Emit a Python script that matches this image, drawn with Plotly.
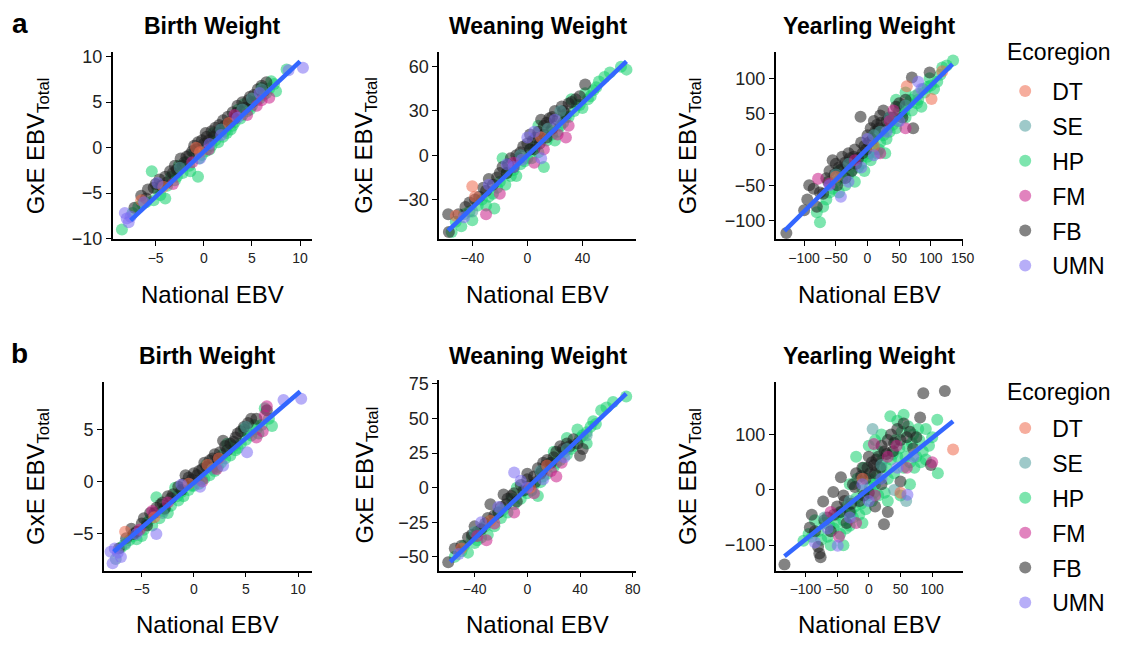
import plotly.graph_objects as go

# ---------------- data ----------------
REGIONS = ["DT", "SE", "HP", "FM", "FB", "UMN"]
TRAITS = ["Birth Weight", "Weaning Weight", "Yearling Weight"]
ROWS = ["a", "b"]

# Row a - Birth Weight
A_BW_FB = [(-6.5,-5.3),(-5.8,-4.6),(-5.2,-4.4),(-4.6,-3.5),(-4.0,-3.2),(-3.5,-2.6),(-3.0,-2.0),(-2.4,-1.2),(-2.0,-1.6),(-1.5,-0.8),(-1.0,0.2),(-0.6,0.6),(-0.2,0.8),(0.3,1.2),(0.8,1.8),(1.2,2.2),(1.6,2.5),(2.0,3.0),(2.5,3.4),(3.0,3.9),(3.5,4.6),(4.0,5.0),(4.6,5.2),(5.2,5.8),(6.0,6.8),(6.5,7.2),(-3.8,-3.8),(0.0,0.4),(2.2,2.4),(-7.2,-6.6),(-2.8,-2.4),(1.0,1.2),(3.2,3.2),(5.6,6.4),(-4.4,-4.2),
           (-5.0,-4.0),(-3.2,-2.8),(-1.8,-1.0),(-0.8,-0.2),(0.5,0.8),(1.4,1.6),(2.7,2.8),(3.8,4.0),(4.3,4.4),(5.0,5.0),(6.2,6.2),(-6.0,-5.6),(-1.2,-0.4),(0.2,1.6),(1.8,2.0),(3.4,3.8),(-2.2,-2.0),(4.8,5.6)]
A_BW_HP = [(-8.5,-9.0),(-6.8,-6.5),(-6.0,-6.0),(-5.2,-5.8),(-4.5,-5.2),(-3.8,-4.2),(-3.0,-3.6),(-2.2,-2.8),(-1.5,-2.0),(-0.6,-3.2),(-0.5,-1.2),(0.2,-0.4),(0.8,0.2),(1.5,0.6),(2.0,1.2),(2.8,2.0),(3.2,2.8),(3.8,3.2),(4.5,4.0),(5.0,4.6),(5.5,5.2),(6.2,5.8),(6.8,6.5),(7.5,6.2),(7.0,7.3),(1.0,1.6),(-2.6,-2.0),(4.2,4.8),(-5.4,-2.6),(2.4,1.6),(3.6,4.2),(-1.0,-0.6),(8.6,8.6),(-4.0,-5.6),(6.0,6.6),
           (-7.4,-7.2),(-6.4,-6.2),(-4.8,-4.6),(-3.4,-3.2),(-2.8,-3.2),(-1.8,-1.6),(-0.2,-0.8),(0.6,-0.2),(1.2,0.8),(2.2,1.8),(3.0,2.4),(4.0,3.6),(4.8,4.2),(5.8,5.4),(6.5,6.0),(7.3,7.0),(-1.4,-2.6),(2.6,2.6)]
A_BW_FM = [(4.5,3.6),(5.5,4.6),(6.0,5.2),(6.8,5.5),(3.2,3.6),(-1.2,-1.6),(0.5,-0.2),(-3.2,-4.0)]
A_BW_SE = [(5.0,5.4),(4.0,4.2),(-2.5,-2.2),(1.8,2.0),(6.0,6.4)]
A_BW_DT = [(-6.5,-5.8),(-0.8,0.0),(-0.4,-0.5),(2.6,2.7),(-4.2,-4.3)]
A_BW_UMN = [(-8.2,-7.2),(-8.0,-7.8),(-7.6,-7.6),(-7.8,-8.2),(-4.8,-3.9),(-0.4,-1.2),(1.8,1.4),(3.5,3.3),(5.8,6.0),(8.8,8.5),(10.3,8.8),(-6.2,-6.0),(0.6,0.4)]

# Row a - Weaning Weight
A_WW_FB = [(-57.5,-40),(-57,-52),(-45,-35),(-38,-30),(-32,-22),(-28,-16),(-22,-15),(-18,-8),(-12,-2),(-8,0),(-5,2),(0,8),(4,10),(8,16),(12,20),(16,25),(20,30),(25,33),(30,35),(35,38),(42,48),(-25,-20),(5,4),(10,24),(18,18),(-15,-12),(28,28),(2,14),(14,12),(-35,-28),
           (-50,-40),(-42,-32),(-30,-24),(-20,-12),(-14,-6),(-10,-8),(-3,6),(2,4),(6,12),(9,8),(14,22),(18,26),(22,24),(26,30),(32,36),(38,40),(-6,-2),(12,14)]
A_WW_HP = [(-52,-45),(-48,-48),(-42,-38),(-36,-34),(-30,-34),(-25,-26),(-20,-18),(-15,-12),(-10,-10),(-5,-6),(0,-2),(3,-2),(6,6),(12,-8),(14,10),(18,14),(22,16),(26,22),(30,26),(34,30),(38,34),(44,38),(48,44),(52,50),(56,53),(68,60),(72,58),(-24,-36),(-18,-2),(8,20),(20,10),(40,32),(-8,-14),(32,38),(-40,-44),
           (-55,-52),(-46,-40),(-33,-30),(-28,-28),(-22,-22),(-12,-14),(-2,-4),(2,4),(8,2),(16,16),(24,20),(28,26),(36,34),(42,42),(46,40),(50,46),(60,56),(-16,-20)]
A_WW_FM = [(-30,-40),(-20,-26),(5,-5),(12,4),(22,14),(28,12),(30,20),(-10,-5)]
A_WW_SE = [(-40,-38),(24,30),(-5,0),(15,18)]
A_WW_DT = [(-40,-21),(-52,-41),(-38,-28),(10,12)]
A_WW_UMN = [(-46,-42),(-28,-20),(-10,-8),(0,12),(5,16),(10,-2),(20,24),(-15,-6),(-4,-3)]

# Row a - Yearling Weight
A_YW_FB = [(-128,-117),(-100,-85),(-92,-50),(-85,-55),(-80,-80),(-70,-62),(-60,-30),(-55,-15),(-50,-20),(-45,-25),(-40,-10),(-35,-18),(-30,-5),(-25,-30),(-20,0),(-15,-12),(-10,10),(-5,5),(0,20),(5,30),(10,40),(15,35),(20,48),(25,55),(-11,46),(30,40),(40,45),(55,45),(70,101),(98,108),(72,30),(50,65),(-62,-45),(-35,-40),
           (-95,-70),(-75,-60),(-65,-40),(-52,-35),(-42,-28),(-32,-22),(-22,-10),(-18,-20),(-8,-5),(-2,0),(2,10),(8,15),(12,25),(18,30),(22,38),(35,45),(45,60),(60,70),(-48,-50),(-28,-12)]
A_YW_HP = [(-75,-102),(-80,-88),(-65,-70),(-55,-55),(-45,-60),(-40,-40),(-30,-35),(-20,-45),(-15,-25),(-10,-20),(-5,-30),(0,-10),(5,-15),(10,0),(15,-5),(20,10),(25,20),(30,15),(35,25),(40,35),(45,30),(50,55),(55,50),(60,45),(65,65),(70,55),(75,75),(80,70),(85,60),(90,80),(95,88),(100,90),(110,95),(118,115),(125,118),(135,125),(60,80),(45,70),(15,25),(28,-5),
           (-70,-80),(-60,-60),(-50,-45),(-35,-50),(-25,-30),(-8,-10),(2,-5),(8,10),(18,0),(22,25),(32,30),(38,45),(48,40),(52,60),(58,55),(68,70),(78,65),(88,85),(98,100),(105,85),(115,105),(-45,-30)]
A_YW_FM = [(-78,-41),(-60,-48),(41,55),(20,-5),(35,40),(60,30),(-20,-15)]
A_YW_SE = [(-50,-35),(-30,-20),(10,20),(35,45),(60,62),(80,78),(20,25)]
A_YW_DT = [(-50,-38),(62,89),(101,71),(118,110),(10,5)]
A_YW_UMN = [(-42,-66),(-30,-45),(-10,-25),(10,-8),(30,25),(50,40),(80,95),(85,85),(-60,-50),(0,15)]

# Row b - Birth Weight
B_BW_FB = [(-6.0,-4.5),(-5.5,-4.8),(-4.8,-3.5),(-4.2,-3.0),(-3.6,-2.5),(-3.0,-2.0),(-2.5,-1.4),(-2.0,-1.2),(-1.5,-0.5),(-1.0,-0.2),(-0.5,0.4),(0.0,0.8),(0.5,1.0),(1.0,1.8),(1.5,2.0),(2.0,2.6),(2.5,2.8),(3.0,3.4),(3.5,3.6),(4.0,4.2),(4.5,4.8),(5.2,5.6),(5.5,6.0),(7.0,6.8),(-7.2,-6.4),(0.8,1.2),(-2.8,-2.6),(2.8,3.9),(-4.5,-4.2),
           (-5.8,-5.0),(-5.0,-4.0),(-3.8,-3.0),(-3.2,-2.2),(-2.2,-1.6),(-1.2,-0.8),(-0.2,0.2),(0.3,0.6),(1.2,1.4),(1.8,2.2),(2.3,2.2),(3.2,3.0),(3.8,3.8),(4.2,4.6),(4.8,5.2),(6.0,6.0),(-6.5,-5.4),(-0.8,0.6)]
B_BW_HP = [(-7.0,-6.3),(-6.2,-5.6),(-5.5,-5.5),(-5.0,-5.2),(-4.5,-3.9),(-4.0,-4.2),(-3.3,-3.5),(-2.8,-2.5),(-2.2,-2.3),(-1.5,-1.8),(-1.0,-1.4),(-0.5,-0.8),(0.0,-0.4),(0.5,-0.2),(1.0,0.3),(1.5,0.6),(2.0,1.0),(2.6,1.8),(3.0,2.2),(3.5,2.5),(4.0,3.0),(4.5,3.6),(5.0,4.0),(5.5,4.4),(6.0,5.0),(6.5,5.4),(7.2,6.0),(7.5,5.3),(6.8,7.0),(-3.6,-1.5),(1.2,1.6),(4.8,5.0),(-1.8,-0.6),(3.2,3.6),
           (-6.6,-6.0),(-5.8,-5.2),(-4.8,-4.6),(-4.2,-3.6),(-3.0,-2.8),(-2.5,-3.0),(-1.2,-1.0),(-0.2,-0.4),(0.8,0.2),(1.8,1.4),(2.3,1.4),(2.8,2.6),(3.8,3.4),(4.2,3.2),(5.2,4.6),(5.8,5.4),(6.2,4.6),(-1.6,-1.4)]
B_BW_FM = [(-5.2,-4.6),(-4.0,-2.8),(0.8,0.0),(2.2,1.2),(6.0,4.2),(6.6,4.8),(7.0,7.2),(6.8,6.3),(-2.5,-2.0)]
B_BW_SE = [(-7.5,-7.4),(-3.0,-3.0),(1.8,1.2),(5.0,5.2),(-6.6,-5.9)]
B_BW_DT = [(-0.5,-0.2),(1.3,1.6),(2.4,2.2),(-3.8,-3.4),(-6.6,-4.8)]
B_BW_UMN = [(-7.8,-7.8),(-7.6,-6.4),(-7.3,-6.8),(-8.0,-6.7),(-7.0,-7.2),(-3.6,-5.0),(-1.2,-0.3),(0.6,-0.5),(2.8,1.5),(5.1,2.8),(8.6,7.8),(10.3,7.9),(-5.5,-5.0)]

# Row b - Weaning Weight
B_WW_FB = [(-60,-54),(-55,-44),(-45,-36),(-40,-28),(-35,-30),(-30,-22),(-25,-20),(-20,-14),(-15,-8),(-10,-4),(-8,-10),(-5,2),(0,6),(5,8),(8,14),(12,18),(15,20),(20,22),(25,30),(30,32),(35,35),(40,23),(42,28),(-18,-5),(10,10),(-28,-12),
           (-50,-42),(-42,-34),(-38,-32),(-32,-26),(-22,-18),(-12,-6),(-3,-2),(2,2),(6,4),(11,12),(14,16),(18,18),(22,26),(27,28),(32,30),(38,32),(-16,-12),(0,10)]
B_WW_HP = [(-50,-46),(-45,-47),(-40,-40),(-35,-36),(-32,-28),(-25,-28),(-20,-22),(-15,-18),(-10,-12),(-5,-8),(0,-4),(5,2),(10,4),(15,10),(20,15),(25,20),(30,24),(35,30),(40,36),(45,40),(48,44),(52,46),(56,56),(60,58),(75,66),(45,32),(-30,-34),(8,-6),(20,26),(-8,0),(30,36),(38,42),
           (-55,-50),(-48,-42),(-42,-36),(-38,-38),(-28,-24),(-22,-18),(-18,-16),(-12,-8),(-2,-2),(3,-2),(12,8),(18,18),(22,18),(28,26),(33,28),(42,38),(50,48),(65,62)]
B_WW_FM = [(-31,-38),(-25,-26),(-10,-18),(5,-4),(18,12),(22,8),(26,18),(-38,-35)]
B_WW_SE = [(-40,-32),(10,12),(30,28),(45,38),(-20,-16)]
B_WW_DT = [(-50,-44),(-28,-24),(2,0),(15,16)]
B_WW_UMN = [(-52,-48),(-22,-14),(-10,11),(-5,5),(0,0),(12,6),(28,22),(-35,-25)]

# Row b - Yearling Weight
B_YW_FB = [(-133,-135),(86,175),(120,179),(81,131),(-78,-115),(-80,-103),(-76,-122),(24,-62),(-93,-68),(-72,-21),(-56,-4),(-44,23),(98,45),(-65,-50),(-50,-30),(-40,-10),(-30,-40),(-25,10),(-20,30),(-10,40),(-5,20),(0,-5),(5,50),(10,30),(15,60),(20,80),(25,70),(30,90),(35,100),(40,85),(45,110),(55,120),(60,95),(70,75),(-15,-20),(0,60),(-35,-60),(10,-30),(30,-40),(50,15),(-60,-75),(-90,-45),
           (-85,-75),(-70,-55),(-55,-45),(-45,-40),(-38,-20),(-28,-25),(-22,5),(-12,25),(-8,-10),(2,30),(8,45),(12,55),(18,40),(28,65),(38,70),(50,90),(65,105),(75,95),(-2,40),(20,10)]
B_YW_HP = [(-103,-92),(-90,-85),(-80,-75),(-70,-60),(-65,-85),(-55,-70),(-50,-45),(-45,-80),(-40,-55),(-35,-30),(-30,-65),(-25,-50),(-20,-15),(-15,-45),(-10,0),(-5,-35),(0,20),(5,-20),(10,10),(15,-10),(20,40),(25,-5),(30,20),(35,55),(40,30),(45,60),(50,-10),(55,40),(60,80),(65,50),(70,100),(75,60),(80,90),(85,70),(90,110),(100,95),(108,127),(109,30),(34,133),(55,136),(45,125),(20,100),(-20,60),(-30,10),(0,80),(30,-20),(65,10),(-60,-100),(-40,-100),(15,70),(-10,-60),(-85,-55),(90,55),
           (-95,-80),(-75,-90),(-62,-65),(-52,-60),(-42,-40),(-36,-70),(-28,-40),(-22,-30),(-12,-25),(-2,-10),(2,5),(8,-5),(12,25),(18,20),(22,55),(28,40),(38,65),(42,90),(48,75),(52,105),(58,60),(62,115),(68,85),(72,40),(78,110),(82,50),(95,80),(-18,20),(-8,40),(10,90)]
B_YW_FM = [(100,50),(8,83),(44,80),(-47,-85),(-20,-60),(10,-10),(60,40),(30,60),(-60,-40)]
B_YW_SE = [(6,110),(59,-20),(40,0),(-30,-20),(20,45),(-70,-50)]
B_YW_DT = [(133,73),(50,-5),(-10,20)]
B_YW_UMN = [(-49,-101),(61,-9),(-85,-95),(-30,-50),(-10,10),(20,20),(45,40),(0,-20),(-65,-70),(70,60)]

# regression lines (end points)
FIT_A_BW = [(-7.6,-8.0),(10.0,9.5)]
FIT_A_WW = [(-57.5,-51),(72,63.6)]
FIT_A_YW = [(-131,-114),(134,120)]
FIT_B_BW = [(-7.7,-6.7),(10.2,8.6)]
FIT_B_WW = [(-58.5,-53.7),(75,68)]
FIT_B_YW = [(-133,-120),(133,124)]

# tick labels
XT_BW = [-5, 0, 5, 10]
XT_A_WW = [-40, 0, 40]
XT_B_WW = [-40, 0, 40, 80]
XT_A_YW = [-100, -50, 0, 50, 100, 150]
XT_B_YW = [-100, -50, 0, 50, 100]
YT_A_BW = [-10, -5, 0, 5, 10]
YT_A_WW = [-30, 0, 30, 60]
YT_A_YW = [-100, -50, 0, 50, 100]
YT_B_BW = [-5, 0, 5]
YT_B_WW = [-50, -25, 0, 25, 50, 75]
YT_B_YW = [-100, 0, 100]

# ---------------- styling ----------------
COLORS = {"DT": "#EE6A4D", "SE": "#4E9C9C", "HP": "#12D06C",
          "FM": "#C81E88", "FB": "#1E1E1E", "UMN": "#7B6CF2"}
DRAW_ORDER = ["HP", "FB", "SE", "FM", "DT", "UMN"]
FONT = "Arial, Liberation Sans, Helvetica, sans-serif"
W, H = 1122, 647

SERIES = {
    ("a", 0): {"DT": A_BW_DT, "SE": A_BW_SE, "HP": A_BW_HP, "FM": A_BW_FM, "FB": A_BW_FB, "UMN": A_BW_UMN},
    ("a", 1): {"DT": A_WW_DT, "SE": A_WW_SE, "HP": A_WW_HP, "FM": A_WW_FM, "FB": A_WW_FB, "UMN": A_WW_UMN},
    ("a", 2): {"DT": A_YW_DT, "SE": A_YW_SE, "HP": A_YW_HP, "FM": A_YW_FM, "FB": A_YW_FB, "UMN": A_YW_UMN},
    ("b", 0): {"DT": B_BW_DT, "SE": B_BW_SE, "HP": B_BW_HP, "FM": B_BW_FM, "FB": B_BW_FB, "UMN": B_BW_UMN},
    ("b", 1): {"DT": B_WW_DT, "SE": B_WW_SE, "HP": B_WW_HP, "FM": B_WW_FM, "FB": B_WW_FB, "UMN": B_WW_UMN},
    ("b", 2): {"DT": B_YW_DT, "SE": B_YW_SE, "HP": B_YW_HP, "FM": B_YW_FM, "FB": B_YW_FB, "UMN": B_YW_UMN},
}
FITS = {("a", 0): FIT_A_BW, ("a", 1): FIT_A_WW, ("a", 2): FIT_A_YW,
        ("b", 0): FIT_B_BW, ("b", 1): FIT_B_WW, ("b", 2): FIT_B_YW}
XTICKS = {("a", 0): XT_BW, ("a", 1): XT_A_WW, ("a", 2): XT_A_YW,
          ("b", 0): XT_BW, ("b", 1): XT_B_WW, ("b", 2): XT_B_YW}
YTICKS = {("a", 0): YT_A_BW, ("a", 1): YT_A_WW, ("a", 2): YT_A_YW,
          ("b", 0): YT_B_BW, ("b", 1): YT_B_WW, ("b", 2): YT_B_YW}
# pixel boxes of the panels (left, right, top, bottom) and axis ranges
BOX = {("a", 0): (114, 315, 47, 239), ("a", 1): (444, 643, 47, 239), ("a", 2): (784, 973, 47, 239),
       ("b", 0): (105, 315, 385, 578), ("b", 1): (444, 643, 383, 578), ("b", 2): (784, 973, 385, 578)}
XR = {("a", 0): [-9.45, 11.2], ("a", 1): [-64, 79], ("a", 2): [-145, 150],
      ("b", 0): [-8.64, 11.3], ("b", 1): [-66.8, 82.5], ("b", 2): [-147, 148]}
YR = {("a", 0): [-10.1, 10.53], ("a", 1): [-57, 70], ("a", 2): [-126, 137],
      ("b", 0): [-8.5, 9.5], ("b", 1): [-60, 77.8], ("b", 2): [-146, 195]}
YTITLE_X = [38, 370, 697]

fig = go.Figure()
layout = dict(width=W, height=H, margin=dict(l=0, r=0, t=0, b=0),
              paper_bgcolor="white", plot_bgcolor="white",
              font=dict(family=FONT, color="black"), annotations=[])

idx = 0
for r in ROWS:
    for c in range(3):
        idx += 1
        key = (r, c)
        xa = "x" if idx == 1 else f"x{idx}"
        ya = "y" if idx == 1 else f"y{idx}"
        l, rt, t, b = BOX[key]
        common = dict(showline=True, linecolor="black", linewidth=1.6, ticks="outside",
                      ticklen=5, tickwidth=1.4, tickcolor="black", showgrid=False,
                      zeroline=False, fixedrange=True)
        layout["xaxis" if idx == 1 else f"xaxis{idx}"] = dict(
            domain=[l / W, rt / W], range=XR[key], anchor=ya, tickvals=XTICKS[key],
            tickfont=dict(size=14, color="#222"), **common)
        layout["yaxis" if idx == 1 else f"yaxis{idx}"] = dict(
            domain=[1 - b / H, 1 - t / H], range=YR[key], anchor=xa, tickvals=YTICKS[key],
            tickfont=dict(size=18, color="#222"), **common)
        for reg in DRAW_ORDER:
            pts = SERIES[key][reg]
            fig.add_trace(go.Scatter(
                x=[p[0] for p in pts], y=[p[1] for p in pts], mode="markers",
                name=reg, xaxis=xa, yaxis=ya,
                marker=dict(size=12, color=COLORS[reg], opacity=0.55, line=dict(width=0)),
                showlegend=(c == 2), legend=("legend" if r == "a" else "legend2"),
                legendgroup=f"{r}_{reg}", legendrank=REGIONS.index(reg) + 1))
        fit = FITS[key]
        fig.add_trace(go.Scatter(x=[p[0] for p in fit], y=[p[1] for p in fit], mode="lines",
                                 line=dict(color="#3366FF", width=4.5), xaxis=xa, yaxis=ya,
                                 showlegend=False, hoverinfo="skip"))
        cx = (l + rt) / 2 / W
        # panel title
        layout["annotations"].append(dict(
            text=f"<b>{TRAITS[c]}</b>", x=cx, y=1 - (20 if r == "a" else 358) / H,
            xref="paper", yref="paper", showarrow=False, font=dict(size=23),
            xanchor="center", yanchor="middle"))
        # x title
        layout["annotations"].append(dict(
            text="National EBV", x=cx, y=1 - (295 if r == "a" else 633) / H,
            xref="paper", yref="paper", showarrow=False, font=dict(size=24),
            xanchor="center", yanchor="middle"))
        # y title
        layout["annotations"].append(dict(
            text="GxE EBV<sub>Total</sub>", x=YTITLE_X[c] / W, y=1 - ((t + b) / 2) / H,
            xref="paper", yref="paper", showarrow=False, font=dict(size=24), textangle=-90,
            xanchor="center", yanchor="middle"))
    layout["annotations"].append(dict(
        text=f"<b>{r}</b>", x=20 / W, y=1 - (18 if r == "a" else 356) / H,
        xref="paper", yref="paper", showarrow=False, font=dict(size=28),
        xanchor="center", yanchor="middle"))
    # legend title
    layout["annotations"].append(dict(
        text="Ecoregion", x=1016 / W, y=1 - (47 if r == "a" else 395) / H,
        xref="paper", yref="paper", showarrow=False, font=dict(size=23),
        xanchor="left", yanchor="middle"))

leg_common = dict(xref="paper", yref="paper", x=1009 / W, xanchor="left", yanchor="top",
                  font=dict(size=23, family=FONT), bgcolor="rgba(0,0,0,0)",
                  tracegroupgap=2, itemsizing="constant", itemwidth=44)
layout["legend"] = dict(y=1 - 65 / H, **leg_common)
layout["legend2"] = dict(y=1 - 410 / H, **leg_common)

fig.update_layout(**layout)
fig.write_html("out.html")
